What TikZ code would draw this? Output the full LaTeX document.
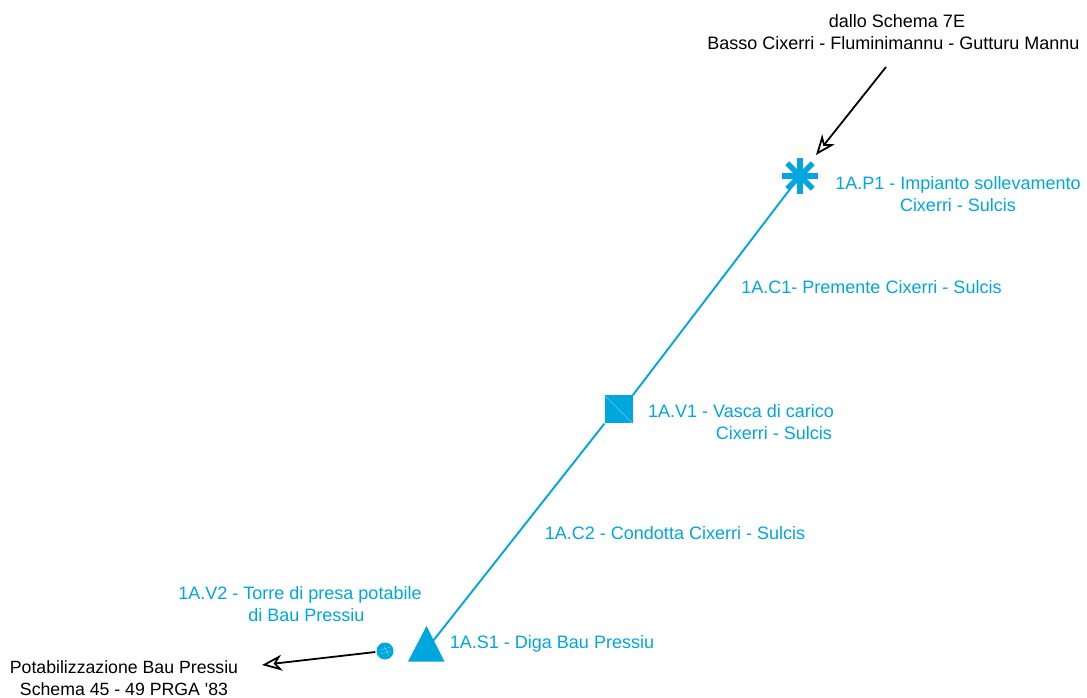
\documentclass[tikz,border=0pt]{standalone}
\usepackage{fontspec}
\setmainfont{Liberation Sans}
\newfontfamily\plainfam[Ligatures=Common]{Liberation Sans}
\usetikzlibrary{arrows.meta,shapes.geometric}
\definecolor{acq}{RGB}{0,166,222}
\tikzset{
  x=1pt,y=-1pt,
  lbl/.style={font=\fontsize{18}{22}\selectfont,align=center,inner sep=0pt,text=acq},
  blk/.style={font=\fontsize{18}{22}\selectfont,align=center,inner sep=0pt,text=black},
  pipe/.style={draw=acq,line width=1.9pt},
  feed/.style={draw=black,line width=1.8pt,-{Stealth[length=20pt,width=16pt,inset=6pt,fill=white,line width=1.8pt]}},
}
\begin{document}
\begin{tikzpicture}
\useasboundingbox (0,0) rectangle (1087,697);
% symbols
\fill[acq] (408,661.5) -- (426.5,626) -- (444.5,661.5) -- cycle;
\node[fill=acq,minimum size=28pt,inner sep=0pt] (vasca) at (618.7,409.3) {};
\draw[white!55!acq,line width=.4pt] (vasca.north west) -- (vasca.south east);
\node[fill=acq,circle,minimum size=17pt,inner sep=0pt] (torre) at (385,651) {};
\draw[white!55!acq,line width=.3pt] (380,650) -- (391,647) (380,654) -- (391,651) (384,646) -- (389,656);
\coordinate (imp) at (800,176);
\foreach \a in {0,45,90,135}{
  \draw[acq,line width=5.5pt] ([shift={(\a:18pt)}]imp) -- ([shift={(\a+180:18pt)}]imp);
}
% connectors
\coordinate (dstart) at (433,641);
\draw[pipe] (dstart) -- (vasca.south west);
\draw[pipe] (vasca.north east) -- (imp);
\coordinate (f1) at (886,67);
\coordinate (f1t) at (816,155);
\draw[feed] (f1) -- (f1t);
\coordinate (f2t) at (262,665);
\draw[feed] (torre.west) ++(-1,1) -- (f2t);
% labels
\node[blk] (t1) at (893.5,32) {\hspace*{7pt}dallo Schema 7E\\Basso Cixerri - Fluminimannu - Gutturu Mannu};
\node[lbl] (t2) at (958,194) {1A.P1 - Impianto sollevamento\\Cixerri - Sulcis};
\node[lbl,align=right] (t4) at (741,422) {1A.V1 - Vasca di carico\\Cixerri - Sulcis\hspace*{2pt}};
\node[lbl] (t3) at (871.5,287) {1A.C1- Premente Cixerri - Sulcis};
\node[lbl] (t5) at (675,533) {1A.C2 - Condotta Cixerri - Sulcis};
\node[lbl] (t6) at (300,604) {1A.V2 - Torre di presa potabile\\\hspace*{13pt}di Bau Pressiu};
\node[lbl] (t7) at (552,644) {1A.S1 - Diga Bau Pressiu};
\node[blk,font=\fontsize{17.7}{22}\plainfam\selectfont] (t8) at (124,678) {Potabilizzazione Bau Pressiu\\Schema 45 - 49 PRGA '83};
\end{tikzpicture}
\end{document}
